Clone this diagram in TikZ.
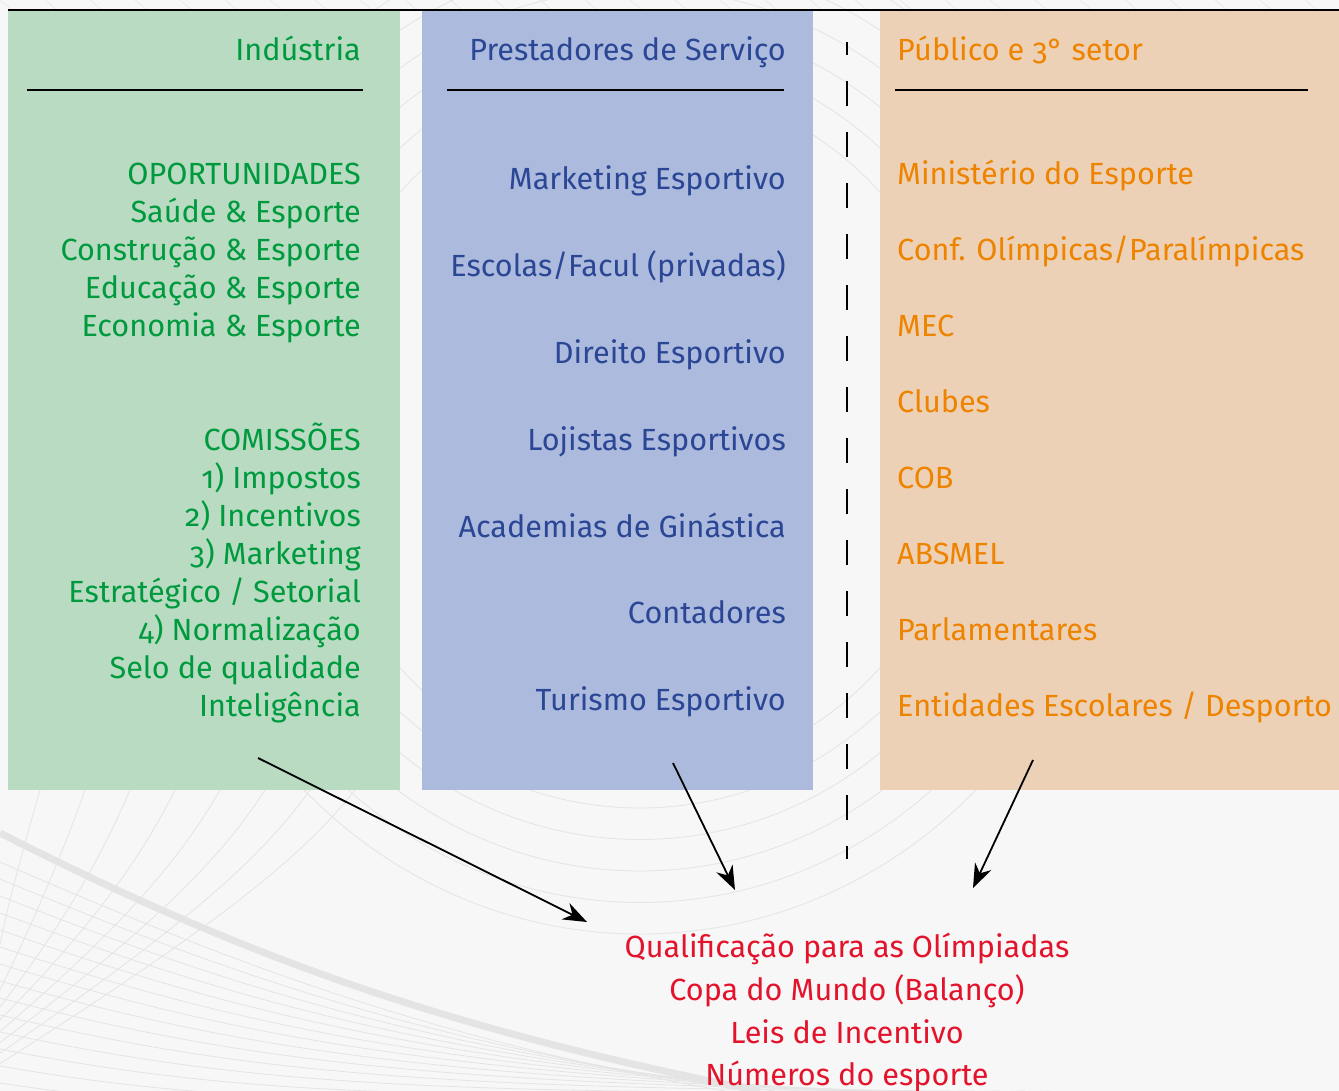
\documentclass[tikz,border=0pt]{standalone}
\usepackage{fontspec}
\setmainfont{Fira Sans}[Numbers=OldStyle]
\usetikzlibrary{arrows.meta}
\definecolor{bgc}{HTML}{F7F7F7}
\definecolor{gfill}{HTML}{B8DBC2}
\definecolor{bfill}{HTML}{ACBADE}
\definecolor{ofill}{HTML}{EDD1B6}
\definecolor{gtxt}{HTML}{009A3E}
\definecolor{btxt}{HTML}{2A4694}
\definecolor{otxt}{HTML}{EE8300}
\definecolor{rtxt}{HTML}{E3132C}
\definecolor{swoosh}{HTML}{E4E4E4}
\tikzset{
  lbl/.style={inner sep=0pt, font=\fontsize{30.6}{38}\selectfont},
  gt/.style={lbl, text=gtxt, anchor=base east},
  bt/.style={lbl, text=btxt, anchor=base east},
  ot/.style={lbl, text=otxt, anchor=base west},
  rt/.style={lbl, text=rtxt, anchor=base},
  col/.style={draw=none, inner sep=0pt, anchor=north west},
  rule/.style={line width=1.5pt, black},
  conn/.style={line width=1.8pt, black, -{Stealth[length=24pt, width=18pt]}},
  deco/.style={swoosh, line width=0.8pt}
}
\begin{document}
\begin{tikzpicture}[x=1pt, y=-1pt]
% background
\fill[bgc] (0,0) rectangle (1339,1091);
\useasboundingbox (0,0) rectangle (1339,1091);
% decorative swooshes
\draw[swoosh, line width=7pt] (0,833) .. controls (250,960) and (450,1030) .. (760,1091);
\foreach \i in {1,...,14} {
  \draw[deco] (0,845+\i*17) .. controls (230,950+\i*12) and (420,1030+\i*6) .. (700+\i*25,1091);
}
\foreach \i in {0,...,7} {
  \draw[deco] (40+\i*45,790) .. controls (20+\i*40,860) and (\i*30,930) .. (-10,1000+\i*10);
}
\foreach \r in {330,360,390,420,450,480} {
  \draw[deco] (640,430) ellipse[x radius=\r, y radius=\r*1.05];
}
\foreach \i in {0,...,30} {
  \draw[deco, line width=0.5pt] (\i*45,0) -- (\i*45+12,10);
}
% top line
\draw[line width=2pt] (8,10) -- (1339,10);
% columns
\fill[gfill] (8,11) rectangle (400,790);
\fill[bfill] (422,11) rectangle (813,790);
\fill[ofill] (880,11) rectangle (1339,790);
\node[col, minimum width=392pt, minimum height=779pt] (gcol) at (8,11) {};
\node[col, minimum width=391pt, minimum height=779pt] (bcol) at (422,11) {};
\node[col, minimum width=459pt, minimum height=779pt] (ocol) at (880,11) {};
% header rules
\draw[rule] (27,90) -- (363,90);
\draw[rule] (447,90) -- (784,90);
\draw[rule] (895,90) -- (1308,90);
% dashed separator
\coordinate (dtop) at (847,42);
\coordinate (dbot) at (847,859);
\draw[line width=1.6pt, dash pattern=on 25pt off 26pt, dash phase=12pt] (dtop) -- (dbot);
% headers
\node[gt] (gh) at (361,61) {Indústria};
\node[bt] (bh) at (786,61) {Prestadores de Serviço};
\node[ot] (oh) at (897,61) {Público e 3° setor};
% green
\node[gt] (g1) at (361,185) {OPORTUNIDADES};
\node[gt] (g2) at (361,223) {Saúde \& Esporte};
\node[gt] (g3) at (361,261) {Construção \& Esporte};
\node[gt] (g4) at (361,299) {Educação \& Esporte};
\node[gt] (g5) at (361,337) {Economia \& Esporte};
\node[gt] (g6) at (361,450) {COMISSÕES};
\node[gt] (g7) at (361,488) {1) Impostos};
\node[gt] (g8) at (361,526) {2) Incentivos};
\node[gt] (g9) at (361,564) {3) Marketing};
\node[gt] (g10) at (361,602) {Estratégico / Setorial};
\node[gt] (g11) at (361,640) {4) Normalização};
\node[gt] (g12) at (361,678) {Selo de qualidade};
\node[gt] (g13) at (361,716) {Inteligência};
% blue
\node[bt] (b1) at (786,190) {Marketing Esportivo};
\node[bt] (b2) at (786,277) {Escolas/Facul (privadas)};
\node[bt] (b3) at (786,363) {Direito Esportivo};
\node[bt] (b4) at (786,450) {Lojistas Esportivos};
\node[bt] (b5) at (786,537) {Academias de Ginástica};
\node[bt] (b6) at (786,623) {Contadores};
\node[bt] (b7) at (786,710) {Turismo Esportivo};
% orange
\node[ot] (o1) at (897,185) {Ministério do Esporte};
\node[ot] (o2) at (897,261) {Conf. Olímpicas/Paralímpicas};
\node[ot] (o3) at (897,337) {MEC};
\node[ot] (o4) at (897,412) {Clubes};
\node[ot] (o5) at (897,488) {COB};
\node[ot] (o6) at (897,564) {ABSMEL};
\node[ot] (o7) at (897,640) {Parlamentares};
\node[ot] (o8) at (897,716) {Entidades Escolares / Desporto};
% result
\node[rt] (r1) at (847,957) {Qualificação para as Olímpiadas};
\node[rt] (r2) at (847,1000) {Copa do Mundo (Balanço)};
\node[rt] (r3) at (847,1043) {Leis de Incentivo};
\node[rt] (r4) at (847,1085) {Números do esporte};
% connectors
\coordinate (ga) at (258,758);
\coordinate (gb) at (587,922);
\coordinate (ba) at (673,763);
\coordinate (bb) at (735,890);
\coordinate (oa) at (1033,760);
\coordinate (ob) at (973,888);
\draw[conn] (ga) -- (gb);
\draw[conn] (ba) -- (bb);
\draw[conn] (oa) -- (ob);
\end{tikzpicture}
\end{document}
